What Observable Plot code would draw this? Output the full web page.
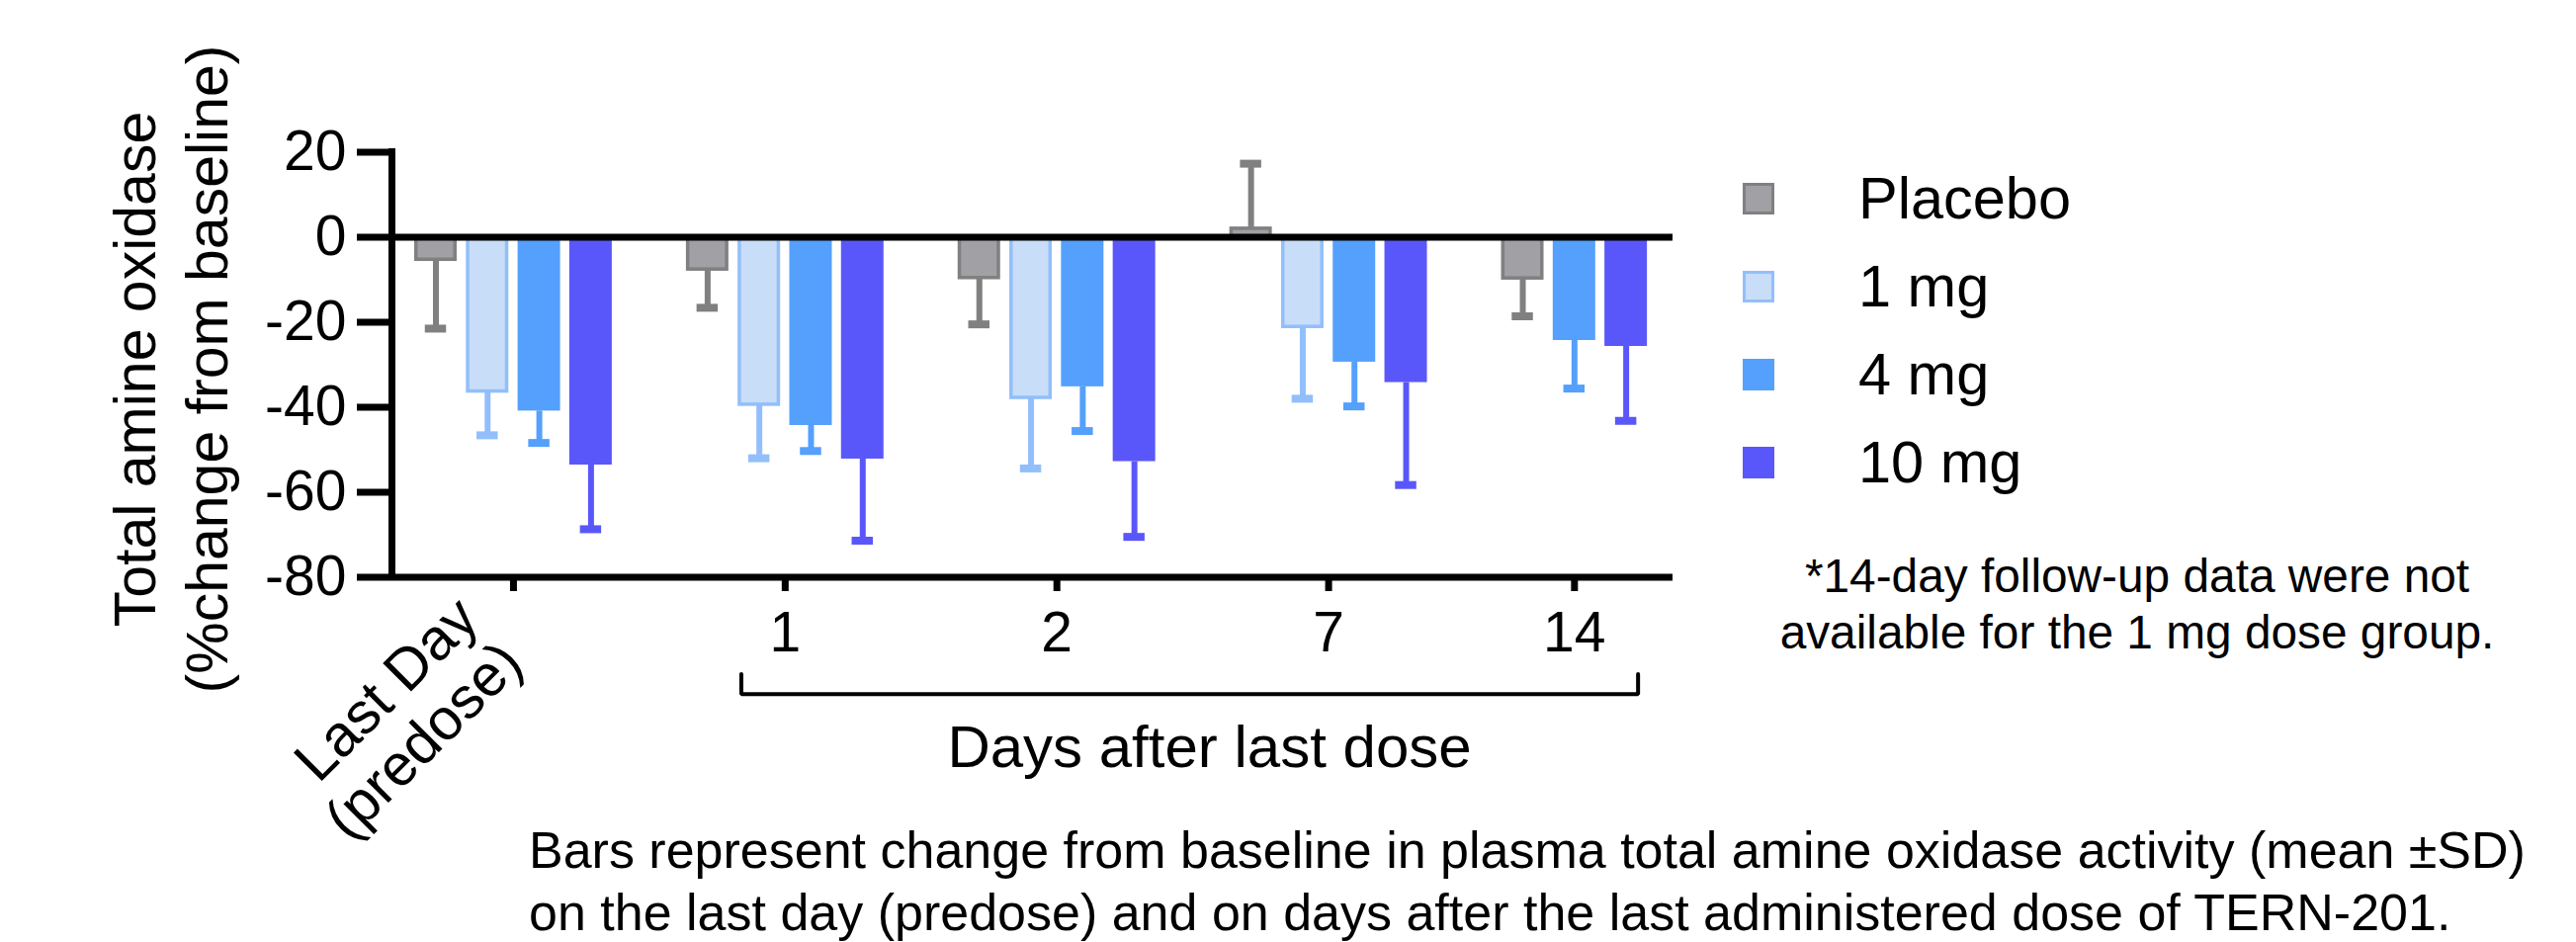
<!DOCTYPE html>
<html>
<head>
<meta charset="utf-8">
<script src="https://cdn.jsdelivr.net/npm/d3@7"></script>
<script src="https://cdn.jsdelivr.net/npm/@observablehq/plot@0.6"></script>
<style>
  html, body { margin: 0; padding: 0; background: #fff; }
  #wrap { position: relative; width: 2606px; height: 953px; overflow: hidden;
          font-family: "Liberation Sans", Arial, sans-serif; color: #000; background: #fff; }
  #chart { position: absolute; left: 0; top: 0; }
  .sw { position: absolute; box-sizing: border-box; }
  .lab { position: absolute; white-space: nowrap; }
  #foot { position: absolute; text-align: center; white-space: nowrap; }
  #cap { position: absolute; white-space: nowrap; }
</style>
</head>
<body>
<div id="wrap">
  <div id="chart"></div>
  <div id="legend"></div>
  <div id="foot"></div>
  <div id="cap"></div>
</div>
<script>
// ---------- data ----------
const days = ["Last Day\n(predose)", "1", "2", "7", "14"];
const doses = ["Placebo", "1 mg", "4 mg", "10 mg"];

const meanPlacebo = [-5.3, -7.6, -9.6, 2.0, -9.7];
const mean1mg     = [-36.3, -39.4, -37.8, -21.1, null];
const mean4mg     = [-40.9, -44.3, -35.2, -29.4, -24.3];
const mean10mg    = [-53.6, -52.2, -52.8, -34.2, -25.7];

const sdPlacebo = [16.2, 9.0, 10.9, 15.3, 8.9];
const sd1mg     = [10.3, 12.6, 16.6, 16.9, null];
const sd4mg     = [7.5, 6.0, 10.4, 10.4, 11.3];
const sd10mg    = [15.1, 19.2, 17.7, 24.1, 17.5];

const yTicks = [20, 0, -20, -40, -60, -80];
const yTitle = "Total amine oxidase\n(%change from baseline)";
const xTitle = "Days after last dose";
const footnote = ["*14-day follow-up data were not", "available for the 1 mg dose group."];
const caption = ["Bars represent change from baseline in plasma total amine oxidase activity (mean \u00b1SD)",
                 "on the last day (predose) and on days after the last administered dose of TERN-201."];

// ---------- styles ----------
const fills   = ["#a0a0a5", "#c8ddf8", "#54a0fc", "#5a57fa"];
const strokes = ["#808080", "#92bffb", "#54a0fc", "#5a57fa"];
const FONT = "'Liberation Sans', Arial, sans-serif";

// ---------- layout (bar slots) ----------
const means = [meanPlacebo, mean1mg, mean4mg, mean10mg];
const sds = [sdPlacebo, sd1mg, sd4mg, sd10mg];
const BAR = 0.822, GROUP_GAP = 1.256, CAP = 0.411;
const rows = [];
const centers = [];
let pos = 0;
days.forEach((day, d) => {
  const start = pos;
  doses.forEach((dose, k) => {
    const m = means[k][d];
    if (m == null) return;
    rows.push({day, dose, k, mean: m, sd: sds[k][d], slot: pos});
    pos += 1;
  });
  centers.push((start + pos - 1) / 2);
  pos += GROUP_GAP;
});
const xMin = -0.851, xMax = 23.93;
const labelOf = new Map(centers.map((c, i) => [c, i === 0 ? "" : days[i]]));
const errEnd = r => r.mean + Math.sign(r.mean) * r.sd;

// bracket under "days after last dose"
const bL = centers[1] - 0.848, bR = centers[4] + 1.23;
const bracket = [{x: bL, y: -102.8}, {x: bL, y: -107.5}, {x: bR, y: -107.5}, {x: bR, y: -102.8}];

const marks = [];
doses.forEach((dose, k) => {
  const sub = rows.filter(r => r.k === k);
  const outlined = k < 2;
  marks.push(Plot.rect(sub, {
    x1: r => r.slot - BAR / 2, x2: r => r.slot + BAR / 2, y1: 0, y2: "mean",
    fill: fills[k], stroke: outlined ? strokes[k] : "none", strokeWidth: 3.5,
    insetLeft: outlined ? 1.75 : 0, insetRight: outlined ? 1.75 : 0
  }));
  marks.push(Plot.ruleX(sub, {x: "slot", y1: "mean", y2: errEnd, stroke: strokes[k], strokeWidth: 6}));
  marks.push(Plot.ruleY(sub, {y: errEnd, x1: r => r.slot - CAP / 2, x2: r => r.slot + CAP / 2, stroke: strokes[k], strokeWidth: 8}));
});
marks.push(
  Plot.ruleY([0], {strokeWidth: 7, stroke: "#000"}),
  Plot.ruleY([-80], {strokeWidth: 7, stroke: "#000"}),
  Plot.ruleX([xMin], {strokeWidth: 7, stroke: "#000", strokeLinecap: "square"}),
  Plot.axisY({ticks: yTicks, tickFormat: d => String(d), tickSize: 35, tickPadding: 11,
              fontSize: 57, strokeWidth: 7, label: null}),
  Plot.axisX({ticks: centers, tickFormat: d => labelOf.get(d), tickSize: 14.5, tickPadding: 20,
              fontSize: 57, strokeWidth: 7, label: null}),
  Plot.text([days[0]], {x: centers[0], y: -80, text: d => d, rotate: -45, textAnchor: "end",
              lineAnchor: "middle", fontSize: 59, lineHeight: 1.07, dx: -24.6, dy: 52.9}),
  Plot.text([yTitle], {frameAnchor: "left", text: d => d, rotate: -90, textAnchor: "middle",
              lineAnchor: "middle", fontSize: 59, lineHeight: 1.237, dx: -226.4, dy: 4.5}),
  Plot.text([xTitle], {frameAnchor: "bottom", text: d => d, lineAnchor: "middle",
              fontSize: 60, dx: 179, dy: 173}),
  Plot.line(bracket, {x: "x", y: "y", strokeWidth: 4, stroke: "#000", strokeLinejoin: "miter"})
);

const chart = Plot.plot({
  width: 2606, height: 953,
  marginLeft: 396, marginRight: 914, marginTop: 153.5, marginBottom: 369.5,
  x: {type: "linear", domain: [xMin, xMax]},
  y: {domain: [-80, 20]},
  style: {fontFamily: FONT, background: "transparent", color: "#000", overflow: "visible"},
  marks
});
document.getElementById("chart").appendChild(chart);

// ---------- legend ----------
const legend = document.getElementById("legend");
doses.forEach((dose, k) => {
  const cy = 200.5 + 89 * k;
  const sw = document.createElement("div");
  sw.className = "sw";
  Object.assign(sw.style, {left: "1763px", top: (cy - 16) + "px", width: "32px", height: "32px",
    background: fills[k], border: k < 2 ? `3.5px solid ${strokes[k]}` : "none"});
  legend.appendChild(sw);
  const lab = document.createElement("div");
  lab.className = "lab";
  lab.textContent = dose;
  Object.assign(lab.style, {left: "1880px", top: (cy - 34.3) + "px", fontSize: "59.5px", lineHeight: "70px"});
  legend.appendChild(lab);
});

// ---------- footnote ----------
const foot = document.getElementById("foot");
foot.innerHTML = footnote.map(s => s.replace(/&/g, "&amp;")).join("<br>");
Object.assign(foot.style, {left: "1762px", width: "800px", top: "555.1px", fontSize: "47.8px", lineHeight: "56.7px"});

// ---------- caption ----------
const cap = document.getElementById("cap");
cap.innerHTML = caption.join("<br>");
Object.assign(cap.style, {left: "535px", top: "828.6px", fontSize: "52px", lineHeight: "63.4px"});
</script>
</body>
</html>
